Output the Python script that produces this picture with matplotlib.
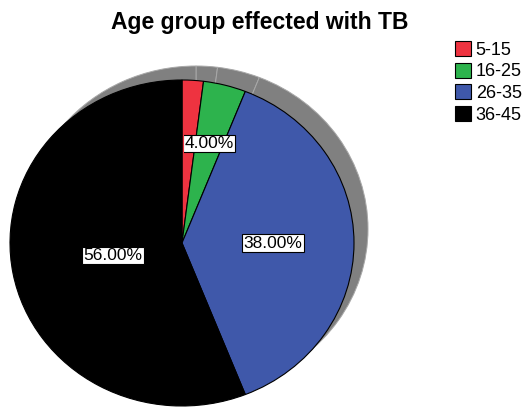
import matplotlib
matplotlib.use("Agg")
import matplotlib.pyplot as plt
from matplotlib.patches import Rectangle

groups = ["5-15", "16-25", "26-35", "36-45"]
percent = [2.0, 4.0, 38.0, 56.0]
slice_colors = ["#ee3340", "#2db34d", "#3f58aa", "#000000"]
label_dist = [0.60, 0.63, 0.53, 0.41]  # SPSS puts the labels at uneven radii

W, H = 529, 407
cx, cy = 182, 164      # pie centre, pixels from bottom-left
rx, ry = 172, 163      # the pie is a little wider than tall
shadow = 14

fig = plt.figure(figsize=(W / 100, H / 100), dpi=100)
ax = fig.add_axes([0, 0, 1, 1])

# drop shadow: same pie in grey, shifted up and right
ax.pie(percent, colors=["#808080"] * len(percent), startangle=90, counterclock=False,
       center=(shadow / rx, shadow / ry),
       wedgeprops=dict(edgecolor="#a8a8a8", linewidth=0.7))

pct_base = 0.55
wedges, _, autotexts = ax.pie(
    percent, colors=slice_colors, startangle=90, counterclock=False,
    autopct=lambda p: f"{p:.2f}%" if p > 3 else "", pctdistance=pct_base,
    wedgeprops=dict(edgecolor="black", linewidth=0.8),
    textprops=dict(fontsize=12.5, family="Liberation Sans"))

for t, d in zip(autotexts, label_dist):
    x, y = t.get_position()
    t.set_position((x * d / pct_base, y * d / pct_base))
    if t.get_text():
        t.set_bbox(dict(boxstyle="square,pad=0.08", fc="white", ec="black", lw=0.8))

# the original cuts the 4% label off at the pie's vertical centre line
clip = Rectangle((1.5 / rx, -3), 6, 6, transform=ax.transData)
autotexts[1].set_clip_path(clip)
autotexts[1].set_clip_on(True)

ax.set_aspect("auto")
ax.set_xlim(-cx / rx, (W - cx) / rx)
ax.set_ylim(-cy / ry, (H - cy) / ry)
ax.axis("off")

fig.text(260 / W, 1 - 23 / H, "Age group effected with TB", ha="center", va="center",
         fontsize=16.5, fontweight="bold", family="Liberation Sans")

fig.legend(wedges, groups, loc="upper left", bbox_to_anchor=(455 / W, 1 - 41 / H),
           frameon=False, handlelength=0.9, handleheight=0.9, handletextpad=0.25,
           labelspacing=0.22, borderaxespad=0, borderpad=0,
           prop=dict(family="Liberation Sans", size=13))

fig.savefig("out.png", dpi=100)
